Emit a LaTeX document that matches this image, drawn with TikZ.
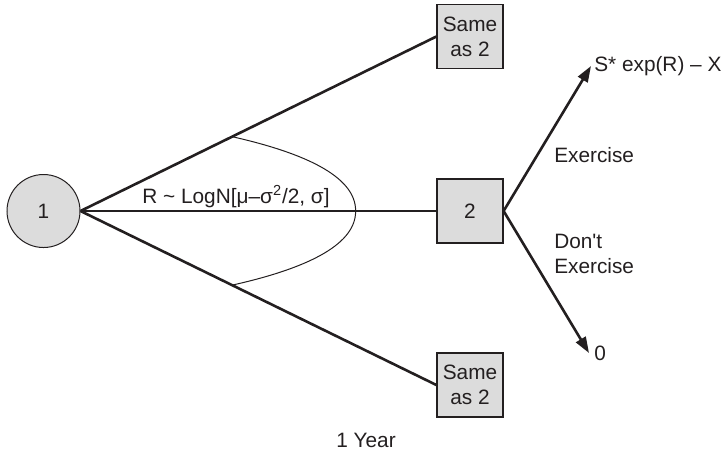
\documentclass[tikz,border=0pt]{standalone}
\usepackage{fontspec}
\setmainfont{Liberation Sans}
\usepackage{tikz}
\usetikzlibrary{arrows.meta,positioning}
\definecolor{inkdark}{RGB}{35,31,32}
\definecolor{nodegray}{RGB}{220,220,220}

\begin{document}
\begin{tikzpicture}[x=0.5pt, y=-0.5pt, line width=1.3pt, draw=inkdark,
  every node/.style={font=\fontsize{10.4}{12.5}\selectfont, text=inkdark},
  chance/.style={circle, draw=inkdark, line width=0.5pt, fill=nodegray, minimum size=36.5pt, inner sep=0pt},
  stagebox/.style={rectangle, draw=inkdark, line width=0.6pt, fill=nodegray, minimum width=33pt, minimum height=32pt, inner sep=1pt, align=center},
  payoff/.style={-{Triangle[length=8pt,width=5.5pt]}},
  tag/.style={inner sep=0pt, align=left, anchor=west}]
  \useasboundingbox (0,0) rectangle (726,452);
  % decision nodes
  \node[chance] (n1) at (43.5,211) {1};
  \node[stagebox] (up) at (470,36.5) {Same\\as 2};
  \node[stagebox] (n2) at (470,211) {2};
  \node[stagebox] (dn) at (470,385) {Same\\as 2};
  \draw (n1.east) -- (up.west);
  \draw (n1.east) -- (n2.west);
  \draw (n1.east) -- (dn.west);
  % distribution of R
  \path (n1.east) -- (up.west) coordinate[pos=0.426] (arcU);
  \path (n1.east) -- (dn.west) coordinate[pos=0.426] (arcL);
  \path (n1.east) -- (n2.west) coordinate[pos=0.773] (arcM);
  \draw[line width=0.5pt] (arcU) .. controls (300,152) and (356,175) .. (arcM)
    .. controls (356,247) and (300,270) .. (arcL);
  \node[anchor=base, inner sep=0pt] (dist) at (236,203) {R \textasciitilde{} LogN[μ–σ\textsuperscript{2}/2, σ]};
  % exercise choice
  \node[anchor=west, inner sep=1pt] (exval) at (591,66) {S* exp(R) – X};
  \node[anchor=west, inner sep=2pt] (zero) at (589,353) {0};
  \draw[payoff] (n2.east) -- (exval.west);
  \draw[payoff] (n2.east) -- (zero.west);
  \node[tag] (exlab) at (553,155) {Exercise};
  \node[tag] (nolab) at (553,254) {Don\textquotesingle t\\Exercise};
  \node (year) at (366,440) {1 Year};
\end{tikzpicture}
\end{document}
